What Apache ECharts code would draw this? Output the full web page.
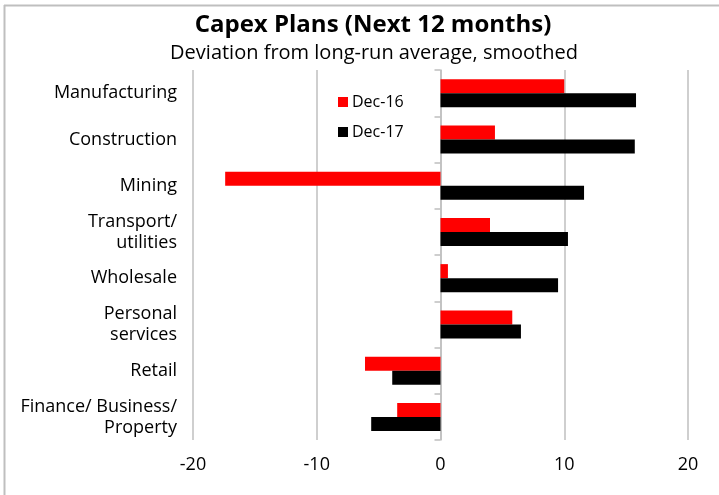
<!DOCTYPE html>
<html>
<head>
<meta charset="utf-8">
<script src="https://cdn.jsdelivr.net/npm/echarts@6/dist/echarts.min.js"></script>
<style>
  html, body { margin: 0; padding: 0; background: #fff; }
  #chart { width: 719px; height: 495px; }
</style>
</head>
<body>
<div id="chart"></div>
<script>
// Sectors, top to bottom
const categories = [
  'Manufacturing',
  'Construction',
  'Mining',
  'Transport/\nutilities',
  'Wholesale',
  'Personal\nservices',
  'Retail',
  'Finance/ Business/\nProperty'
];
// Capex plans, deviation from long-run average (smoothed)
const dec16 = [10.0, 4.4, -17.4, 4.0, 0.6, 5.8, -6.1, -3.5];
const dec17 = [15.8, 15.7, 11.6, 10.3, 9.5, 6.5, -3.9, -5.6];
const xTicks = { min: -20, max: 20, interval: 10 };

const FONT = '"Open Sans", "Noto Sans", sans-serif';
const GRID_GREY = '#bfbfbf';

const chart = echarts.init(document.getElementById('chart'), null, { renderer: 'canvas' });

chart.setOption({
  animation: false,
  backgroundColor: '#ffffff',
  textStyle: { fontFamily: FONT, color: '#000' },
  title: [
    {
      text: 'Capex Plans (Next 12 months)',
      left: 368, top: 8, textAlign: 'center',
      textStyle: { fontFamily: FONT, fontSize: 24, fontWeight: 'bold', color: '#000' }
    },
    {
      text: 'Deviation from long-run average, smoothed',
      left: 369, top: 38, textAlign: 'center',
      textStyle: { fontFamily: FONT, fontSize: 20, fontWeight: 'normal', color: '#000' }
    }
  ],
  legend: {
    orient: 'vertical',
    left: 333, top: 89,
    itemWidth: 10, itemHeight: 10, itemGap: 14,
    icon: 'rect',
    textStyle: { fontFamily: FONT, fontSize: 16, color: '#000', padding: [0, 0, 0, -1] },
    data: ['Dec-16', 'Dec-17']
  },
  grid: { left: 193, right: 31, top: 70, bottom: 55, containLabel: false },
  xAxis: {
    type: 'value',
    min: xTicks.min, max: xTicks.max, interval: xTicks.interval,
    axisLine: { show: false },
    axisTick: { show: false },
    axisLabel: { fontFamily: FONT, fontSize: 18, color: '#000', margin: 16 },
    splitLine: { show: true, lineStyle: { color: GRID_GREY, width: 1.5 } }
  },
  yAxis: [
    {
      // sector labels on the left edge
      type: 'category', inverse: true, data: categories,
      axisLine: { show: false, onZero: false },
      axisTick: { show: false },
      axisLabel: { fontFamily: FONT, fontSize: 18, color: '#000', margin: 16, lineHeight: 21, align: 'right' }
    },
    {
      // zero line with category ticks
      type: 'category', inverse: true, data: categories, position: 'left',
      axisLine: { show: true, onZero: true, lineStyle: { color: GRID_GREY, width: 1.5 } },
      axisTick: { show: true, length: 6, lineStyle: { color: GRID_GREY, width: 1.5 } },
      axisLabel: { show: false }
    }
  ],
  series: [
    {
      name: 'Dec-16', type: 'bar', yAxisIndex: 0, data: dec16,
      barWidth: 14, barGap: '0%',
      itemStyle: { color: '#ff0000' }
    },
    {
      name: 'Dec-17', type: 'bar', yAxisIndex: 0, data: dec17,
      barWidth: 14, barGap: '0%',
      itemStyle: { color: '#000000' }
    }
  ],
  graphic: [
    { type: 'line', shape: { x1: 4.5, y1: 5, x2: 4.5, y2: 495 }, style: { stroke: GRID_GREY, lineWidth: 2 }, silent: true },
    { type: 'line', shape: { x1: 4, y1: 5.5, x2: 719, y2: 5.5 }, style: { stroke: GRID_GREY, lineWidth: 2 }, silent: true }
  ]
});
</script>
</body>
</html>
